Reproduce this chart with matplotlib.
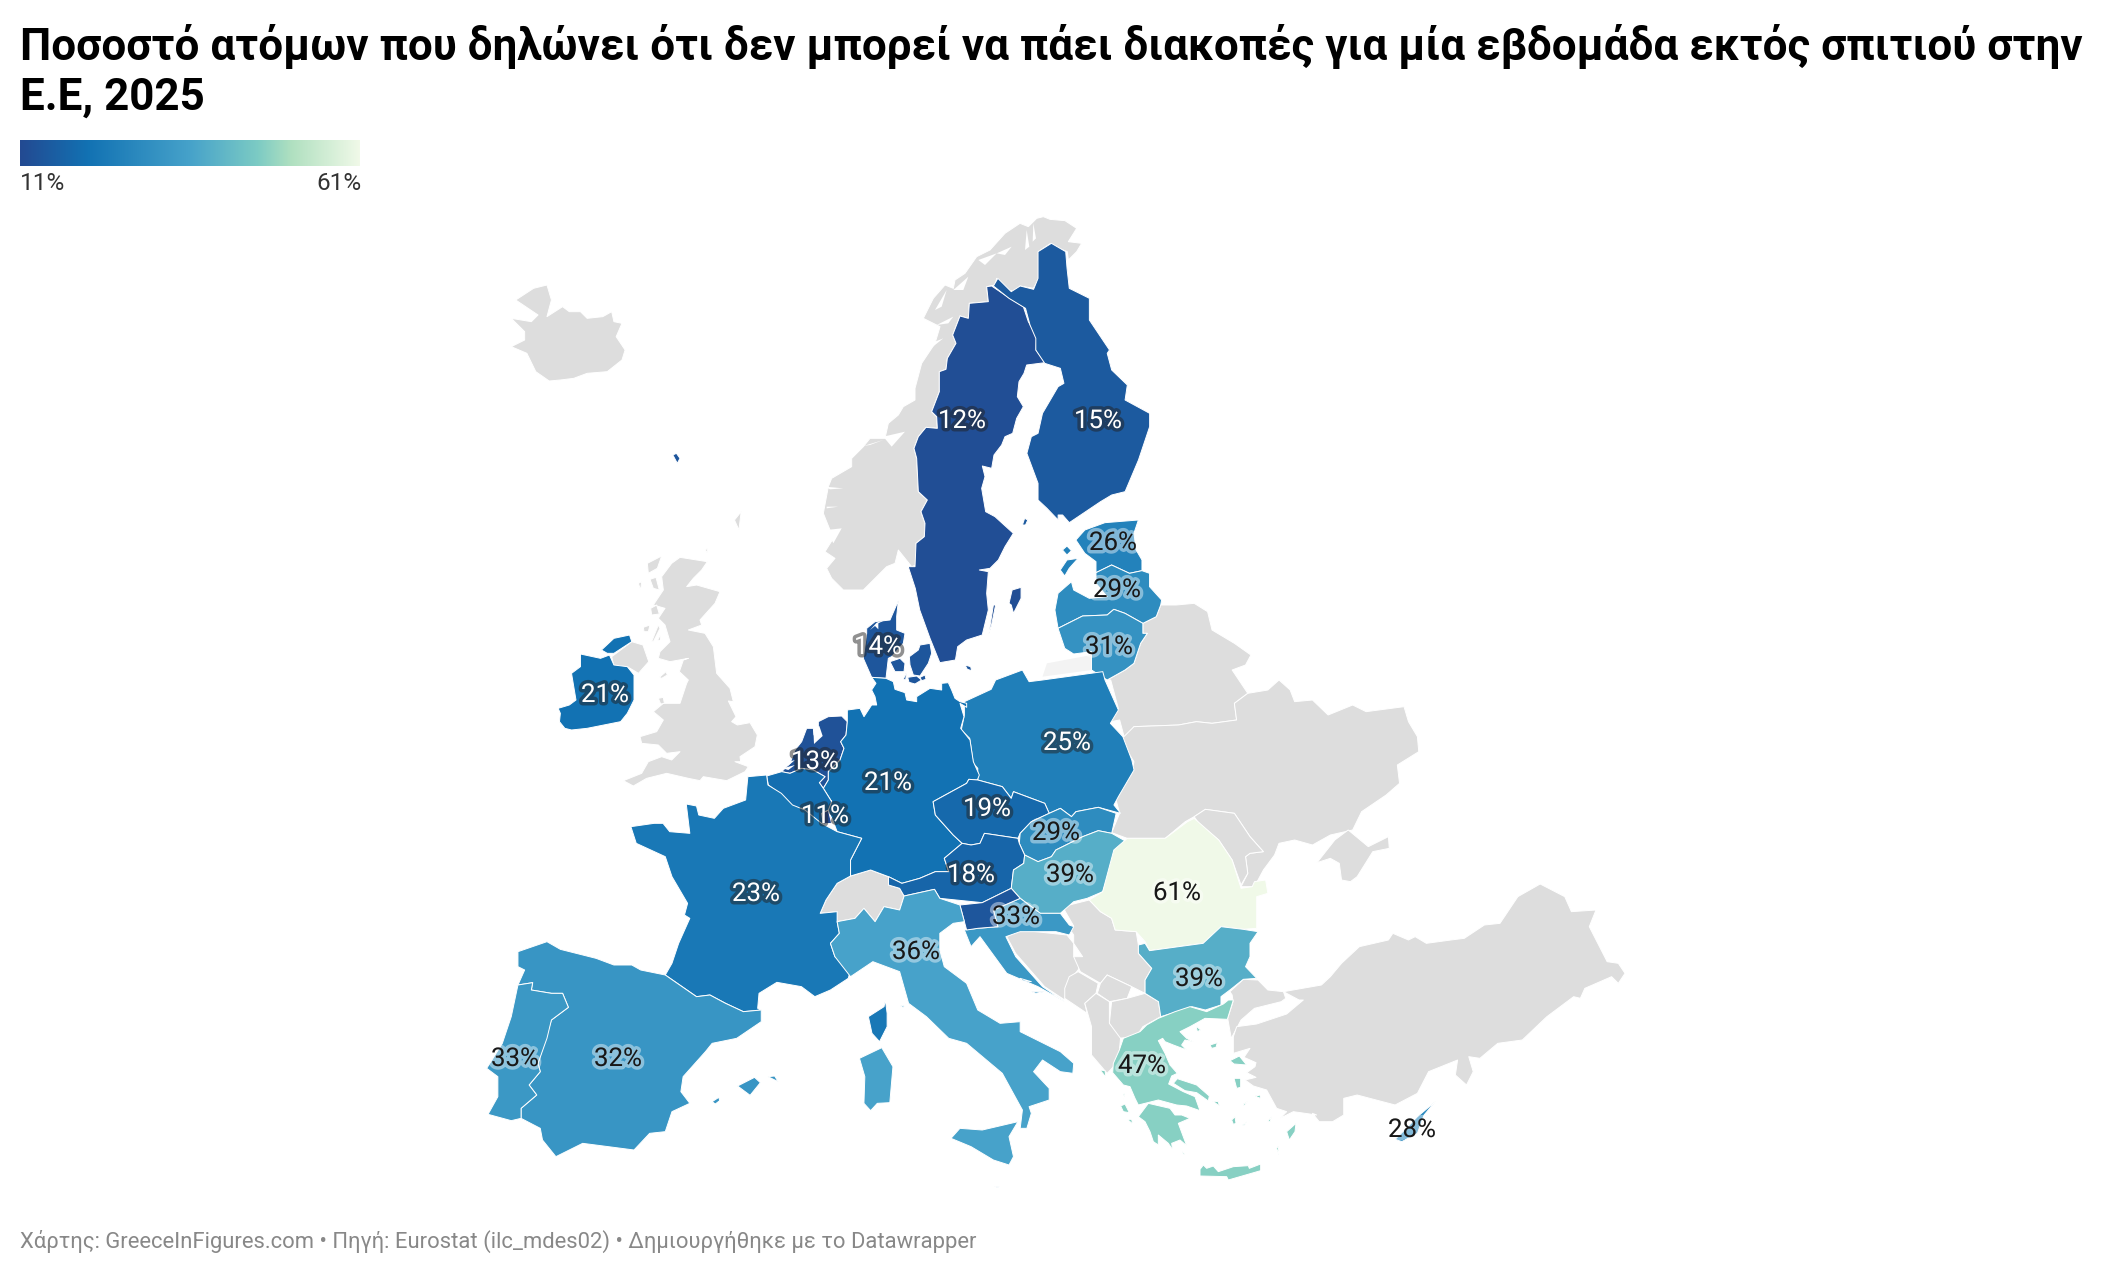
import matplotlib
matplotlib.use("Agg")
import matplotlib.pyplot as plt
import matplotlib.patheffects as pe
from matplotlib.colors import LinearSegmentedColormap, Normalize
import numpy as np

plt.rcParams["font.family"] = ["Roboto", "DejaVu Sans"]

TITLE_LINES = ["Ποσοστό ατόμων που δηλώνει ότι δεν μπορεί να πάει διακοπές για μία εβδομάδα εκτός σπιτιού στην",
               "Ε.Ε, 2025"]
FOOTER = "Χάρτης: GreeceInFigures.com • Πηγή: Eurostat (ilc_mdes02) • Δημιουργήθηκε με το Datawrapper"

# values per country (BE, SI and MT have no label: estimated from colour)
CODES = ["SE", "FI", "EE", "LV", "LT", "DK", "IE", "PL", "NL", "DE", "CZ", "LU", "BE", "SK",
         "AT", "HU", "RO", "FR", "HR", "SI", "IT", "BG", "ES", "PT", "GR", "CY", "MT"]
VALUES = [12, 15, 26, 29, 31, 14, 21, 25, 13, 21, 19, 11, 20, 29,
          18, 39, 61, 23, 33, 14, 36, 39, 32, 33, 47, 28, 25]
NO_LABEL = ["BE", "SI", "MT"]
SCALE_MIN = 11
SCALE_MAX = 61
SCALE_STOPS = [0, 0.2, 0.5, 0.7, 0.8, 1]
SCALE_COLORS = ["#234a92", "#1272b3", "#46a2ca", "#7ccbc4", "#b0e0c0", "#f0f9e8"]


# outlines were traced on several views of the map, each helper brings one view to picture pixels
def view(x0, y0, pts, sx=3.0):
    return [(x0 + px / sx, y0 + py / 3) for px, py in pts]

def nw(pts):
    return view(480, 200, pts, 2.24)

def ne(pts):
    return view(1000, 200, pts, 2.24)

def sw(pts):
    return view(480, 680, pts, 2.24)

def se(pts):
    return view(1000, 680, pts, 2.24)

def gr(pts):
    return view(1090, 1000, pts)

def dk(pts):
    return view(760, 600, pts)

def no(pts):
    return view(820, 210, pts)

def uk(pts):
    return view(620, 540, pts)


GREY_SHAPES = [
    # Iceland
    nw([(80,300),(120,265),(150,255),(160,300),(150,350),(185,320),(200,335),(225,335),(240,355),(275,350),(295,335),(300,365),(318,370),(305,410),(325,450),(318,480),(285,515),(240,520),(210,535),(180,540),(155,543),(125,515),(105,460),(70,440),(100,420),(100,395),(70,355),(115,365),(130,345)]),
    # UK
    uk([(180,52),(262,65),(245,90),(220,115),(200,140),(230,135),(300,155),(285,190),(240,240),(245,255),(205,270),(255,280),(280,320),(290,400),(330,445),(340,485),(325,483),(348,530),(335,545),(352,555),(390,548),(412,585),(405,620),(360,650),(362,665),(345,665),(385,680),(375,695),(320,722),(250,710),(240,722),(205,715),(140,700),(120,705),(80,715),(40,738),(10,722),(65,700),(85,665),(125,650),(155,660),(180,635),(140,640),(115,615),(65,610),(60,590),(110,575),(130,540),(100,515),(130,490),(180,490),(200,430),(205,420),(178,395),(190,360),(205,355),(150,365),(115,355),(120,335),(150,305),(135,255),(115,235),(135,205),(100,195),(130,150),(125,110),(155,70)]),
    uk([(92,205),(110,195),(118,222),(95,225)]),
    uk([(82,70),(125,48),(112,85),(85,100)]),
    uk([(55,130),(65,125),(62,150)]),
    uk([(70,262),(90,255),(85,275),(72,275)]),
    uk([(90,118),(108,112),(118,150),(100,145)]),
    uk([(95,305),(115,255),(120,265),(100,305)]),
    uk([(113,300),(120,285),(122,302)]),
    uk([(118,412),(138,395),(142,405),(125,415)]),
    uk([(115,475),(130,472),(133,490),(122,492)]),
    uk([(255,30),(262,25),(262,38)]),
    nw([(570,960),(585,935),(580,990)]),
    # N. Ireland
    nw([(295,1370),(340,1325),(365,1335),(378,1385),(355,1420),(330,1400),(300,1400)]),
    # Norway
    no([(670,20),(690,28),(735,32),(770,55),(745,95),(785,100),(770,125),(745,150),(742,125),(715,115),(692,100),(655,125),(658,205),(640,235),(600,228),(585,245),(565,240),(530,205),(525,225),(500,230),(505,275),(448,280),(445,325),(420,318),(398,375),(408,400),(382,445),(378,478),(358,485),(358,545),(335,605),(350,620),(352,655),(318,652),(295,680),(282,715),(290,745),(295,845),(322,870),(303,905),(315,940),(313,980),(288,1000),(288,1065),(275,1070),(235,1020),(225,1060),(200,1070),(165,1105),(130,1140),(70,1140),(35,1105),(20,1075),(45,1045),(15,1025),(40,985),(10,910),(25,830),(35,805),(95,770),(95,745),(130,710),(150,685),(195,685),(205,640),(235,615),(250,590),(285,570),(285,535),(305,460),(345,400),(360,350),(310,325),(340,265),(375,225),(400,235),(405,210),(435,190),(470,140),(510,120),(555,70),(600,40),(625,50),(650,25)]),
    # Switzerland
    sw([(830,588),(875,570),(915,590),(915,615),(940,625),(950,648),(940,690),(905,680),(885,725),(860,685),(840,715),(800,725),(800,695),(762,700),(775,660),(800,610)]),
    # Belarus
    ne([(320,1270),(350,1250),(360,1215),(395,1215),(435,1210),(465,1235),(475,1290),(525,1330),(562,1365),(550,1395),(520,1410),(555,1480)])
    + se([(525,70),(530,120),(475,130),(440,125),(400,135),(300,140),(280,180),(268,120),(248,125),(265,85),(248,0)])
    + ne([(240,1440),(280,1410),(300,1390),(315,1330),(330,1300),(320,1300)]),
    # Ukraine
    se([(270,180),(300,140),(400,135),(440,125),(475,130),(530,120),(525,70),(555,40),(600,30),(625,0),(650,30),(660,65),(700,60),(735,105),(790,75),(820,95),(905,80),(915,125),(935,170),(938,215),(890,255),(895,310),(865,345),(810,395),(790,450),(740,465),(700,495),(660,480),(625,490),(615,525),(590,570),(570,620),(540,620),(555,580),(550,530),(560,520),(590,515),(560,470),(525,400),(460,388),(435,410),(415,425),(370,475),(285,475),(250,458),(268,400),(260,360),(295,280),(300,245)]),
    # Moldova
    se([(435,410),(460,388),(525,400),(560,470),(590,515),(560,520),(550,530),(555,580),(540,615),(520,540),(490,480),(445,430)]),
    # Crimea
    se([(710,548),(750,480),(780,450),(825,500),(870,470),(872,505),(835,515),(800,590),(785,605),(765,600),(760,550),(740,535)]),
    # Bosnia, Serbia, Montenegro, Kosovo, N. Macedonia, Albania
    se([(15,770),(45,750),(150,765),(165,790),(165,830),(185,830),(175,870),(150,910),(145,960),(100,920),(35,820)]),
    se([(140,680),(200,660),(225,695),(250,715),(258,750),(305,755),(310,795),(310,820),(340,865),(325,900),(325,940),(295,920),(240,885),(225,910),(180,875),(165,830),(185,830),(165,790),(165,765),(150,735),(165,738)]),
    se([(145,925),(155,890),(175,875),(220,910),(215,940),(190,970),(195,1000),(145,955)]),
    se([(225,910),(240,885),(295,920),(285,955),(245,965),(218,940)]),
    se([(250,965),(285,955),(325,940),(355,965),(360,1010),(320,1040),(305,1070),(265,1075),(245,1030)]),
    se([(190,970),(215,940),(245,965),(245,1030),(270,1075),(265,1145),(240,1180),(205,1125),(205,1040)]),
    # Turkey
    se([(545,898),(515,935),(520,945),(522,965),(510,1015),(518,1075),(540,1020),(570,985),(630,965),(640,955),(635,935),(600,930),(578,900)]),
    se([(635,935),(720,915),(740,890),(765,850),(805,800),(870,780),(880,760),(915,780),(930,770),(955,790),(1010,780),(1040,775),(1085,735),(1120,730),(1160,650),(1210,612),(1265,650),(1280,695),(1335,690),(1320,740),(1360,845),(1385,850),(1400,880),(1385,910),(1370,890),(1310,925),(1300,955),(1285,950),(1225,1010),(1170,1080),(1115,1090),(1075,1135),(1050,1130),(1060,1175),(1045,1215),(1020,1185),(1025,1140),(960,1175),(935,1240),(885,1275),(800,1245),(770,1255),(770,1305),(745,1325),(715,1325),(700,1300)])
    + gr([(680,345),(610,335),(570,355),(590,335),(560,325),(530,270),(490,258),(465,240),(498,232),(470,218),(495,200),(498,188),(462,172),(480,145),(430,160),(430,110),(440,80),(500,72),(590,42),(640,0)])
    + se([(670,960)]),
]

# Kaliningrad is a paler grey in the reference
PALE_SHAPES = [
    nw([(1270,1390),(1370,1365),(1370,1410),(1260,1430)]),
]

SHAPES = {
    "SE": [
        no([(515,228),(565,262),(610,290),(625,335),(650,380),(648,420),(675,458),(620,465),(612,490),(597,515),(592,560),(610,590),(590,625),(578,670),(555,680),(545,705),(522,735),(515,775),(487,768),(495,800),(485,835),(497,905),(525,920),(580,970),(555,1010),(535,1050),(510,1075),(478,1080),(505,1085),(500,1150),(505,1200)])
        + nw([(1125,1305),(1090,1320),(1070,1340),(1065,1380),(1030,1388),(1008,1315),(985,1230),(975,1165),(958,1095)])
        + no([(262,1070),(285,1070),(288,1000),(313,980),(315,940),(303,905),(322,870),(295,845),(290,745),(282,715),(295,680),(318,652),(352,655),(350,620),(335,605),(358,545),(358,485),(378,478),(382,445),(408,400),(398,375),(420,318),(445,325),(448,280),(505,275),(500,230)]),
        nw([(1185,1210),(1192,1170),(1212,1162),(1212,1195),(1195,1240),(1190,1215)]),
        nw([(1140,1300),(1150,1215),(1155,1215),(1145,1280)]),
    ],
    "FI": [
        nw([(1280,130),(1312,155),(1315,205),(1320,265),(1365,295),(1365,360),(1410,450),(1405,460),(1415,510),(1450,555),(1445,600),(1500,640),(1500,680),(1475,780),(1445,875),(1415,885),(1390,905),(1320,968),(1305,945),(1295,945),(1295,960),(1270,925),(1250,900),(1250,850),(1225,760),(1235,710),(1250,700),(1260,640),(1295,560),(1308,550),(1300,505),(1265,490),(1245,450),(1245,415),(1232,375),(1222,325),(1185,295),(1150,258),(1160,235),(1190,275),(1210,258),(1240,268),(1250,235),(1250,155)]),
        nw([(1215,975),(1220,955),(1227,960),(1222,975)]),
    ],
    "EE": [
        ne([(170,1020),(190,990),(235,968),(310,960),(300,1000),(305,1050),(318,1080),(318,1112),(290,1120),(250,1095),(215,1118),(215,1085),(190,1060)]),
        ne([(135,1110),(150,1080),(175,1075),(155,1105),(145,1128)]),
        ne([(140,1050),(150,1038),(160,1052),(150,1065)]),
    ],
    "LV": [
        ne([(215,1118),(250,1095),(290,1120),(318,1112),(335,1120),(335,1160),(362,1200),(360,1215),(350,1250),(320,1270),(280,1240),(255,1228),(240,1245),(185,1248),(130,1285),(123,1230),(130,1180),(160,1145),(165,1170),(200,1195),(240,1190),(215,1150)]),
    ],
    "LT": [
        ne([(130,1285),(185,1248),(240,1245),(255,1228),(280,1240),(320,1270),(320,1300),(330,1300),(315,1330),(300,1390),(280,1410),(240,1440),(205,1410),(205,1355),(165,1362),(145,1345)]),
    ],
    "DK": [
        dk([(320,85),(345,65),(390,60),(415,2),(410,50),(410,90),(435,100),(430,130),(395,170),(385,175),(378,235),(335,232),(310,175),(320,100)]),
        dk([(448,170),(475,150),(480,135),(510,130),(515,160),(505,190),(480,228),(460,225),(450,195)]),
        dk([(390,185),(420,175),(435,190),(432,215),(405,215)]),
        dk([(443,232),(470,228),(485,240),(465,252),(447,247)]),
        dk([(480,232),(495,225),(498,238),(485,242)]),
        dk([(430,238),(440,215),(437,240)]),
        dk([(615,195),(632,200),(635,212),(622,208)]),
        nw([(432,765),(440,760),(448,775),(442,790)]),
    ],
    "IE": [
        nw([(225,1362),(270,1375),(290,1365),(300,1395),(330,1400),(345,1425),(345,1500)])
        + sw([(330,100),(315,125),(240,145),(205,150),(190,145),(178,125),(180,100),(175,85),(200,75),(215,60)])
        + nw([(205,1420),(225,1400)]),
        nw([(272,1350),(300,1315),(335,1305),(340,1325),(300,1360),(285,1360)]),
    ],
    "PL": [
        nw([(1155,1440),(1215,1410),(1230,1445),(1260,1440),(1395,1415)])
        + sw([(1400,0),(1430,90),(1412,130),(1440,170),(1460,240),(1465,270),(1430,350),(1420,375),(1435,400),(1385,382),(1335,395),(1325,410),(1300,385),(1275,400),(1265,370),(1195,335),(1190,355),(1170,320),(1115,300),(1115,265),(1105,250),(1097,175),(1078,150),(1085,105),(1085,65),(1145,28)]),
    ],
    "NL": [
        dk([(175,365),(205,350),(245,348),(262,365),(258,405),(242,425),(252,445),(240,480),(205,515),(205,540),(190,565),(178,548),(195,530),(160,510),(125,505),(90,520),(65,515),(90,490),(105,450),(125,425),(140,385),(160,385),(162,405),(175,385)]),
    ],
    "DE": [
        dk([(335,232),(378,235),(400,245),(405,268),(435,278),(440,300),(470,305),(470,290),(510,265),(545,270),(545,250),(565,248),(575,270),(585,295),(600,305),(620,310),(620,322),(600,310),(612,350),(602,385),(630,420),(640,485),(658,525),(650,545)])
        + sw([(1115,300),(1095,298),(1090,310),(1015,365),(1020,405),(1060,465),(1080,490),(1040,535),(1050,575),(1020,575),(985,595),(945,610),(915,590),(875,570),(830,588),(830,540),(855,475),(800,455),(790,420),(775,380),(785,360)])
        + dk([(215,605),(190,565),(205,540),(205,515),(240,480),(252,445),(242,425),(258,405),(262,365),(262,330),(300,325),(312,350),(335,315),(350,315),(345,290),(335,270),(348,250)]),
    ],
    "CZ": [
        sw([(1015,365),(1090,310),(1095,298),(1115,300),(1170,320),(1190,355),(1195,335),(1265,370),(1275,400),(1235,425),(1210,460),(1205,475),(1130,460),(1120,490),(1100,495),(1080,490),(1060,465),(1020,405)]),
    ],
    "LU": [
        dk([(185,640),(205,630),(215,670),(190,672)]),
    ],
    "BE": [
        dk([(20,528),(65,515),(90,520),(125,505),(160,510),(195,530),(178,548),(190,565),(215,605),(205,630),(185,640),(190,672),(160,670),(130,625),(100,625),(75,595),(45,570),(25,555)]),
    ],
    "SK": [
        sw([(1275,400),(1300,385),(1325,410),(1335,395),(1385,382),(1425,400),(1415,460),(1385,452),(1350,470),(1290,510),(1280,530),(1250,545),(1220,525),(1208,490),(1210,460),(1235,425)]),
    ],
    "AT": [
        sw([(1040,535),(1080,490),(1100,495),(1120,490),(1130,460),(1205,475),(1208,490),(1220,525),(1218,550),(1195,570),(1190,625),(1125,668),(1030,655),(1018,628),(950,648),(940,625),(915,615),(915,590),(945,610),(985,595),(1020,575),(1050,575)]),
    ],
    "HU": [
        sw([(1220,525),(1250,545),(1280,530),(1290,510),(1350,470),(1385,452),(1415,460),(1448,485),(1425,510),(1415,555),(1395,635),(1360,655),(1330,665),(1300,700),(1255,700),(1210,655),(1190,625),(1195,570),(1218,550)]),
    ],
    "RO": [
        se([(200,660),(230,635),(255,510),(285,475),(370,475),(420,425),(435,415),(490,480),(520,540),(540,625),(565,620),(570,605),(595,600),(600,640),(575,650),(575,745),(545,748),(495,740),(455,790),(400,800),(335,812),(325,785),(305,755),(258,750),(250,715),(225,695)]),
    ],
    "FR": [
        sw([(600,290),(642,285),(645,315),(675,340),(700,375),(728,390),(765,430),(800,455),(855,475),(830,540),(830,588),(800,610),(775,660),(762,700),(800,695),(800,725),(805,760),(785,790),(795,830),(830,870),(825,895),(785,930),(750,950),(720,920),(665,907),(625,940),(622,985),(630,990),(590,995),(550,970),(515,945),(485,950),(415,885),(430,850),(445,790),(470,715),(458,705),(465,670),(430,590),(415,530),(350,490),(338,440),(390,430),(410,430),(425,455),(470,460),(462,372),(485,378),(490,405),(525,415),(545,385),(595,360)]),
        sw([(870,1010),(905,980),(908,960),(912,1000),(912,1040),(895,1085),(878,1060)]),
    ],
    "HR": [
        sw([(1210,655),(1255,700),(1300,700),(1320,735),(1330,740),(1320,765),(1290,755),(1210,755),(1178,770),(1200,830),(1260,920),(1310,965),(1250,920),(1180,880),(1150,825),(1120,770),(1100,800),(1085,750),(1115,745),(1160,740),(1150,690)]),
        sw([(1210,895),(1235,905),(1215,902)]),
        sw([(1235,935),(1265,935),(1245,940)]),
    ],
    "SI": [
        sw([(1075,675),(1125,668),(1190,625),(1210,655),(1150,690),(1160,740),(1115,745),(1090,750),(1085,725)]),
    ],
    "IT": [
        sw([(800,725),(840,715),(860,685),(885,725),(905,680),(940,690),(950,648),(1018,628),(1030,655),(1075,675),(1085,725),(1060,730),(1030,760),(1030,810),(1040,860),(1090,910),(1115,990),(1165,1030),(1210,1025),(1210,1055),(1300,1115),(1330,1150),(1328,1180),(1300,1175),(1260,1140),(1240,1175),(1275,1225),(1275,1260),(1230,1280),(1235,1300),(1225,1345),(1210,1345),(1215,1290),(1170,1180),(1090,1090),(1050,1075),(1000,1010),(960,970),(940,875),(880,845),(830,890),(795,830),(785,790),(805,760)]),
        sw([(1055,1375),(1075,1345),(1125,1350),(1205,1325),(1185,1370),(1195,1430),(1185,1455),(1150,1440),(1100,1400)]),
        sw([(850,1135),(900,1103),(925,1160),(918,1268),(890,1270),(875,1292),(860,1270),(862,1190)]),
        sw([(942,978),(952,975),(948,982)]),
    ],
    "BG": [
        se([(310,795),(325,790),(335,812),(400,800),(455,790),(495,740),(545,748),(578,755),(560,790),(560,830),(550,860),(575,895),(545,898),(515,930),(495,950),(495,975),(460,990),(430,980),(385,1000),(360,1010),(355,965),(325,940),(325,900),(340,865),(310,820)]),
    ],
    "ES": [
        sw([(85,815),(150,785),(180,808),(260,835),(300,855),(340,855),(360,870),(415,885),(485,950),(515,945),(550,970),(590,995),(630,990),(630,1025),(575,1075),(520,1090),(505,1115),(455,1190),(450,1235),(470,1270),(430,1295),(415,1355),(380,1360),(345,1410),(230,1390),(170,1430),(140,1380),(135,1345),(92,1315),(92,1285),(127,1245),(110,1215),(135,1175),(130,1150),(160,1020),(198,982),(185,940),(160,940),(115,930),(118,908),(85,915),(100,870),(85,860)]),
        sw([(577,1218),(615,1192),(628,1208),(605,1246)]),
        sw([(645,1190),(660,1188),(668,1205)]),
        sw([(520,1265),(535,1252),(537,1262),(527,1272)]),
    ],
    "PT": [
        sw([(85,915),(118,908),(115,930),(160,940),(185,940),(198,982),(160,1020),(150,1075),(130,1150),(135,1175),(110,1215),(127,1245),(92,1285),(92,1315),(70,1322),(18,1303),(40,1250),(40,1190),(15,1165),(50,1090),(70,1010)]),
    ],
    "GR": [
        gr([(205,55),(255,35),(300,20),(350,35),(400,12),(415,0),(430,0),(412,58),(345,55),(300,80),(270,95),(290,115),(310,125),(285,120),(275,135),(290,150),(250,135),(225,125),(218,115),(205,122),(225,160),(240,195),(262,220),(245,228),(236,252),(280,275),(315,290),(330,332),(290,318),(260,315),(205,300),(145,315),(135,295),(120,260),(100,255),(68,218),(70,190),(88,150),(100,115),(150,95),(170,75)]),
        gr([(250,250),(262,236),(320,255),(358,288),(355,303),(320,278),(285,272)]),
        gr([(145,350),(175,310),(240,325),(255,345),(275,345),(300,355),(265,370),(290,437),(270,420),(245,430),(248,450),(235,430),(205,405),(205,435),(190,425),(180,395),(165,365)]),
        gr([(330,508),(340,495),(350,505),(370,498),(385,515),(430,500),(475,497),(478,505),(512,492),(512,512),(415,540),(410,530),(330,528)]),
        gr([(420,182),(448,168),(470,195),(432,192)]),
        gr([(432,235),(452,235),(452,262),(440,265)]),
        gr([(360,135),(382,128),(378,142),(365,145)]),
        gr([(318,78),(332,90),(322,95)]),
        gr([(368,303),(385,305),(388,318)]),
        gr([(30,210),(45,212),(48,232)]),
        gr([(100,280),(105,280),(100,298)]),
        gr([(92,318),(105,312),(118,338),(100,335)]),
        gr([(112,358),(125,358),(128,372)]),
        gr([(590,395),(618,370),(615,395),(598,420)]),
        gr([(495,288),(512,285),(510,295)]),
        gr([(425,360),(435,350),(438,370),(430,373)]),
        gr([(460,312),(472,305),(462,318)]),
        gr([(458,375),(470,365),(462,378)]),
        gr([(532,365),(545,350),(540,365)]),
        gr([(560,445),(565,438),(567,465)]),
        gr([(278,455),(285,462),(280,465)]),
    ],
    "CY": [
        se([(885,1378),(910,1345),(935,1310),(975,1265),(950,1305),(935,1360),(900,1385)]),
    ],
    "MT": [
        sw([(1153,1518),(1163,1520),(1158,1523)]),
    ],
}

# fjords and inland water that cut into the shapes above
WATER_SHAPES = [
    no([(620,60),(628,110),(615,120)]),
    no([(640,40),(648,85),(638,95)]),
    no([(530,130),(575,110),(555,135)]),
    no([(475,150),(530,130),(495,165)]),
    no([(400,240),(445,200),(430,240)]),
    no([(345,300),(380,240),(365,290)]),
    no([(350,345),(400,320),(385,340)]),
    no([(345,395),(370,385),(320,425)]),
    no([(190,680),(255,665),(215,710)]),
    no([(130,708),(190,690),(150,705)]),
    no([(15,830),(70,835),(30,838)]),
    no([(20,890),(55,890),(20,895)]),
    no([(20,960),(65,955),(40,1000)]),
    dk([(330,90),(350,68),(385,55),(355,70),(355,88),(345,78)]),
    dk([(160,385),(178,378),(188,408),(162,432)]),
    dk([(70,490),(105,480),(85,497)]),
    dk([(68,505),(105,495),(85,510)]),
]

LABEL_XY = {
    "SE": (962, 421), "FI": (1098, 421), "EE": (1113, 543), "LV": (1117, 590), "LT": (1109, 647),
    "DK": (878, 647), "IE": (605, 695), "PL": (1067, 743), "NL": (815, 762), "DE": (888, 783),
    "CZ": (987, 809), "LU": (825, 816), "SK": (1056, 833), "AT": (971, 875), "HU": (1070, 875),
    "RO": (1177, 893), "FR": (756, 894), "HR": (1016, 917), "IT": (916, 952), "BG": (1199, 979),
    "ES": (618, 1059), "PT": (515, 1059), "GR": (1142, 1066), "CY": (1412, 1130),
}


def dibujar_forma(ax, puntos, color, borde="white"):
    xs = [p[0] for p in puntos]
    ys = [p[1] for p in puntos]
    ax.fill(xs, ys, facecolor=color, edgecolor=borde, linewidth=0.7, joinstyle="round")


cmap = LinearSegmentedColormap.from_list("escala", list(zip(SCALE_STOPS, SCALE_COLORS)))
norm = Normalize(SCALE_MIN, SCALE_MAX)

fig = plt.figure(figsize=(21.12, 12.84), dpi=100, facecolor="white")
ax = fig.add_axes([0, 0, 1, 1])
ax.axis("off")

for forma in GREY_SHAPES:
    dibujar_forma(ax, forma, "#dddddd")
for forma in PALE_SHAPES:
    dibujar_forma(ax, forma, "#f3f3f3", "none")

for code, value in zip(CODES, VALUES):
    for forma in SHAPES[code]:
        dibujar_forma(ax, forma, cmap(norm(value)))

for forma in WATER_SHAPES:
    dibujar_forma(ax, forma, "white", "none")

# the halo is see-through: it only shows on the map, or as grey over white for the light labels
for code, value in zip(CODES, VALUES):
    if code in NO_LABEL:
        continue
    x, y = LABEL_XY[code]
    if value <= 25:
        color_texto = "white"
        halo = pe.withStroke(linewidth=5, foreground="#222222", alpha=0.5)
    else:
        color_texto = "#181818"
        halo = pe.withStroke(linewidth=5, foreground="white", alpha=0.42)
    ax.text(x, y, f"{value}%", fontsize=18.6, color=color_texto, ha="center", va="center",
            path_effects=[halo])

# legend gradient
gradiente = np.linspace(SCALE_MIN, SCALE_MAX, 256).reshape(1, -1)
ax.imshow(gradiente, cmap=cmap, norm=norm, extent=(20, 360, 166, 140), aspect="auto")
ax.text(20, 190, f"{SCALE_MIN}%", fontsize=17.5, color="#333333", ha="left", va="baseline")
ax.text(361, 190, f"{SCALE_MAX}%", fontsize=17.5, color="#333333", ha="right", va="baseline")

ax.text(20, 60, TITLE_LINES[0], fontsize=31.65, fontweight="bold", color="black", ha="left", va="baseline")
ax.text(20, 110, TITLE_LINES[1], fontsize=31.65, fontweight="bold", color="black", ha="left", va="baseline")
ax.text(20, 1253 - 5, FOOTER, fontsize=15.85, color="#888888", ha="left", va="baseline")

ax.set_xlim(0, 2112)
ax.set_ylim(1284, 0)

fig.savefig("out.png", dpi=100)
